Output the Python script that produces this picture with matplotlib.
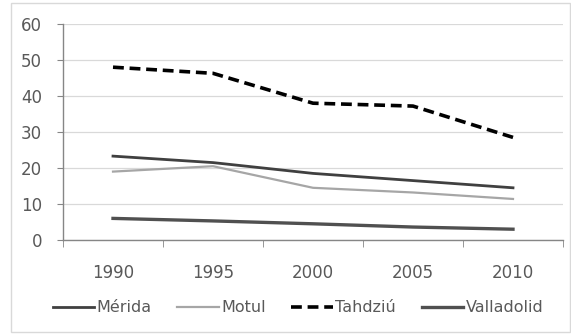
import numpy as np
import matplotlib.pyplot as plt
from matplotlib.patches import Rectangle

years = ["1990", "1995", "2000", "2005", "2010"]
merida = [23.3, 21.5, 18.5, 16.5, 14.5]
motul = [19.0, 20.5, 14.5, 13.2, 11.4]
tahdziu = [48.0, 46.3, 38.0, 37.2, 28.5]
valladolid = [6.0, 5.3, 4.5, 3.6, 3.0]

plt.rcParams['font.family'] = ['DejaVu Sans']
txt = "#595959"

fig = plt.figure(figsize=(5.71, 3.35), dpi=100)
ax = fig.add_axes([63 / 571, 1 - 240 / 335, 500 / 571, 216 / 335])

# light frame round the chart area
fig.patches.append(Rectangle((11 / 571, 3 / 335), 559 / 571, 329 / 335,
                             transform=fig.transFigure, fill=False,
                             edgecolor="#d9d9d9", linewidth=1))

x = np.arange(len(years))
ax.plot(x, merida, color="#404040", lw=2.0, label="Mérida")
ax.plot(x, motul, color="#a6a6a6", lw=1.6, label="Motul")
ax.plot(x, tahdziu, color="#000000", lw=2.6, ls=(0, (3, 1.6)), label="Tahdziú")
ax.plot(x, valladolid, color="#505050", lw=2.4, label="Valladolid")

ax.set_xlim(-0.5, len(years) - 0.5)
ax.set_ylim(0, 60)
ax.set_yticks(range(0, 61, 10))
ax.set_xticks(x)
ax.set_xticklabels(years)
ax.set_xticks(np.arange(-0.5, len(years), 1), minor=True)

ax.grid(axis="y", color="#d9d9d9", lw=0.9)
ax.set_axisbelow(True)
for s in ["top", "right"]:
    ax.spines[s].set_visible(False)
for s in ["left", "bottom"]:
    ax.spines[s].set_color("#868686")
    ax.spines[s].set_linewidth(1)

ax.tick_params(axis="y", length=4, color="#868686", pad=11, labelsize=12, labelcolor=txt)
ax.tick_params(axis="x", which="major", length=0, pad=17, labelsize=12, labelcolor=txt)
ax.tick_params(axis="x", which="minor", length=5, color="#868686")

leg = ax.legend(loc="center", bbox_to_anchor=(298 / 571, 1 - 308 / 335),
                bbox_transform=fig.transFigure, ncol=4, frameon=False,
                fontsize=11.5, handlelength=2.6, handletextpad=0.15,
                columnspacing=1.6)
for t in leg.get_texts():
    t.set_color(txt)

fig.savefig("out.png", dpi=100)
